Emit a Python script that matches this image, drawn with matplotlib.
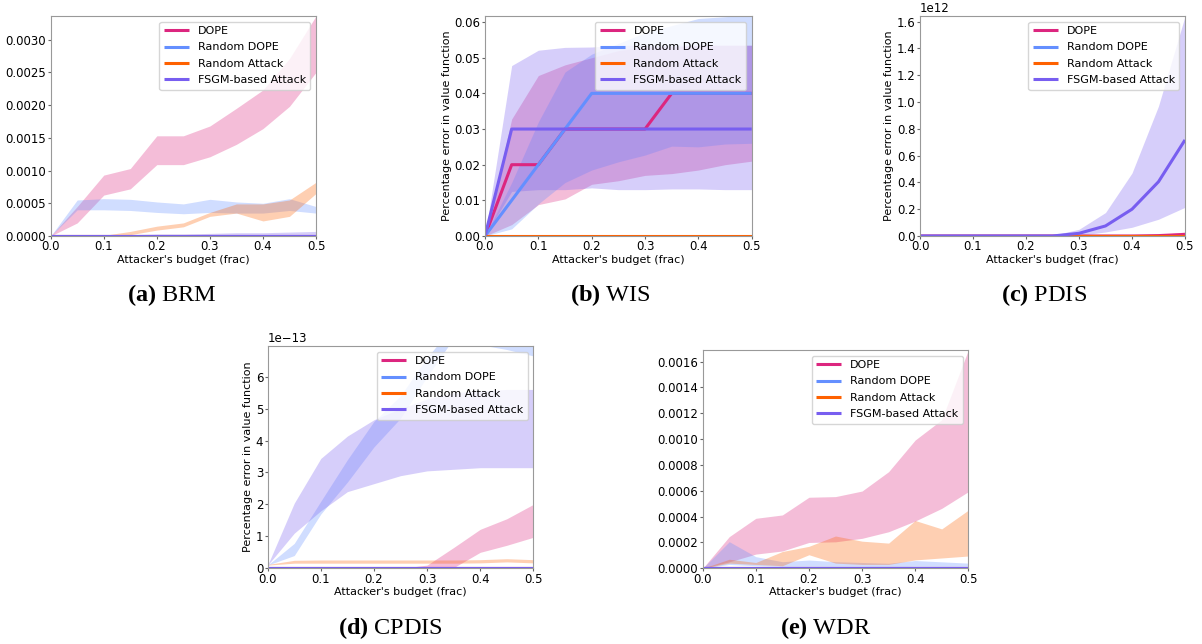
import matplotlib
matplotlib.use('Agg')
import matplotlib.pyplot as plt

plt.rcParams['mathtext.fontset'] = 'custom'
plt.rcParams['mathtext.rm'] = 'Liberation Serif'
plt.rcParams['mathtext.bf'] = 'Liberation Serif:bold'

# Attacker budget (fraction of corrupted data) on every x axis.
budget = [0.0, 0.05, 0.1, 0.15, 0.2, 0.25, 0.3, 0.35, 0.4, 0.45, 0.5]
methods = ['DOPE', 'Random DOPE', 'Random Attack', 'FSGM-based Attack']
colors = ['#DC267F', '#648FFF', '#FE6100', '#785EF0']
zeros = [0, 0, 0, 0, 0, 0, 0, 0, 0, 0, 0]

# BRM
brm_mean = [zeros, zeros, zeros, zeros]
brm_lo = [
    [0, 0.0002, 0.000625, 0.00072, 0.00109, 0.00109, 0.00121, 0.0014, 0.00164, 0.00198, 0.0025],
    [0, 0.0004, 0.0004, 0.00039, 0.00036, 0.00034, 0.00036, 0.00035, 0.00035, 0.00039, 0.00035],
    [0, 0, 0, 0.00002, 0.00009, 0.00014, 0.0003, 0.00035, 0.00023, 0.0003, 0.00065],
    zeros,
]
brm_hi = [
    [0, 0.00045, 0.00093, 0.00103, 0.00153, 0.00153, 0.00168, 0.00195, 0.00223, 0.00271, 0.00336],
    [0, 0.00055, 0.00057, 0.00056, 0.00052, 0.00049, 0.00056, 0.00052, 0.0005, 0.00057, 0.00045],
    [0, 0, 0.00001, 0.00007, 0.00015, 0.0002, 0.00036, 0.00049, 0.00049, 0.00055, 0.00082],
    [0, 0.00001, 0.00002, 0.00002, 0.00003, 0.00003, 0.00004, 0.00005, 0.00005, 0.00006, 0.00007],
]

# WIS
wis_mean = [
    [0, 0.02, 0.02, 0.03, 0.03, 0.03, 0.03, 0.04, 0.04, 0.04, 0.04],
    [0, 0.01, 0.02, 0.03, 0.04, 0.04, 0.04, 0.04, 0.04, 0.04, 0.04],
    zeros,
    [0, 0.03, 0.03, 0.03, 0.03, 0.03, 0.03, 0.03, 0.03, 0.03, 0.03],
]
wis_lo = [
    [0, 0.0032, 0.0088, 0.0104, 0.0145, 0.0155, 0.017, 0.0175, 0.0185, 0.02, 0.021],
    [0, 0.002, 0.009, 0.015, 0.0185, 0.0208, 0.0227, 0.0252, 0.025, 0.0258, 0.026],
    zeros,
    [0, 0.0125, 0.013, 0.013, 0.0135, 0.013, 0.013, 0.0132, 0.0132, 0.013, 0.013],
]
wis_hi = [
    [0, 0.0328, 0.045, 0.048, 0.05, 0.052, 0.053, 0.053, 0.0535, 0.0535, 0.0535],
    [0, 0.015, 0.032, 0.046, 0.051, 0.054, 0.057, 0.059, 0.061, 0.0615, 0.062],
    zeros,
    [0, 0.0478, 0.0521, 0.0529, 0.053, 0.0535, 0.0535, 0.0535, 0.0535, 0.0535, 0.0535],
]

# PDIS
pdis_mean = [
    [0, 0, 0, 0, 0, 0, 0, 0, 0, 0.003e12, 0.012e12],
    zeros,
    zeros,
    [0, 0, 0, 0, 0, 0, 0.02e12, 0.075e12, 0.2e12, 0.405e12, 0.717e12],
]
pdis_lo = [
    [0, 0, 0, 0, 0, 0, 0, 0, 0, 0, 0.004e12],
    zeros,
    zeros,
    [0, 0, 0, 0, 0, 0, 0.005e12, 0.03e12, 0.065e12, 0.125e12, 0.214e12],
]
pdis_hi = [
    [0, 0, 0, 0, 0, 0, 0, 0, 0, 0.008e12, 0.03e12],
    zeros,
    zeros,
    [0, 0, 0, 0, 0, 0.005e12, 0.05e12, 0.175e12, 0.47e12, 0.97e12, 1.64e12],
]

# CPDIS
cpdis_mean = [zeros, zeros, zeros, zeros]
cpdis_lo = [
    [0, 0, 0, 0, 0, 0, 0, 0.02e-13, 0.5e-13, 0.72e-13, 0.97e-13],
    [0.1e-13, 0.4e-13, 1.7e-13, 2.7e-13, 3.8e-13, 4.7e-13, 6.0e-13, 7.2e-13, 7.0e-13, 6.85e-13, 6.65e-13],
    [0.1e-13, 0.16e-13, 0.16e-13, 0.16e-13, 0.16e-13, 0.16e-13, 0.16e-13, 0.16e-13, 0.17e-13, 0.2e-13, 0.17e-13],
    [0.1e-13, 1.1e-13, 1.8e-13, 2.4e-13, 2.65e-13, 2.9e-13, 3.05e-13, 3.1e-13, 3.15e-13, 3.15e-13, 3.15e-13],
]
cpdis_hi = [
    [0, 0, 0, 0, 0, 0, 0.1e-13, 0.65e-13, 1.22e-13, 1.55e-13, 2.0e-13],
    [0.1e-13, 0.78e-13, 2.1e-13, 3.4e-13, 4.6e-13, 5.4e-13, 6.6e-13, 7.6e-13, 7.6e-13, 7.5e-13, 7.4e-13],
    [0.12e-13, 0.25e-13, 0.26e-13, 0.26e-13, 0.26e-13, 0.26e-13, 0.26e-13, 0.26e-13, 0.27e-13, 0.3e-13, 0.27e-13],
    [0.1e-13, 2.04e-13, 3.44e-13, 4.14e-13, 4.65e-13, 5.0e-13, 5.3e-13, 5.5e-13, 5.55e-13, 5.6e-13, 5.6e-13],
]

# WDR
wdr_mean = [zeros, zeros, zeros, zeros]
wdr_lo = [
    [0, 0.00005, 0.00011, 0.000134, 0.0002, 0.000205, 0.000232, 0.000283, 0.000366, 0.000464, 0.000593],
    [0, 0.00003, 0.00002, 0.000015, 0.000015, 0.000015, 0.000015, 0.000012, 0.000015, 0.000015, 0.000015],
    [0, 0.00004, 0.00003, 0.00002, 0.000105, 0.00004, 0.00003, 0.00003, 0.000065, 0.00008, 0.000095],
    zeros,
]
wdr_hi = [
    [0, 0.000245, 0.000387, 0.000413, 0.00055, 0.000555, 0.000598, 0.000748, 0.000993, 0.00115, 0.00169],
    [0, 0.000206, 0.00009, 0.000051, 0.000064, 0.000051, 0.000045, 0.000039, 0.00006, 0.00005, 0.00004],
    [0, 0.00007, 0.000045, 0.00013, 0.00017, 0.00025, 0.00021, 0.000195, 0.00037, 0.000305, 0.00045],
    [0, 0.000005, 0.000008, 0.000008, 0.00001, 0.00001, 0.00001, 0.00001, 0.00001, 0.00001, 0.00001],
]

W, H = 1202, 644
fig = plt.figure(figsize=(W / 100, H / 100), dpi=100)


def box(left, top, right, bottom):
    return [left / W, 1 - bottom / H, (right - left) / W, (bottom - top) / H]


panels = [
    # (mean, lo, hi, axes box, ylim top, yticks, ylabel shown)
    (brm_mean, brm_lo, brm_hi, box(50.7, 16, 316, 236), 0.00336,
     [0, 0.0005, 0.001, 0.0015, 0.002, 0.0025, 0.003], False),
    (wis_mean, wis_lo, wis_hi, box(485, 16, 751.7, 236), 0.0617,
     [0, 0.01, 0.02, 0.03, 0.04, 0.05, 0.06], True),
    (pdis_mean, pdis_lo, pdis_hi, box(920, 16, 1185, 236), 1.642e12,
     [0, 0.2e12, 0.4e12, 0.6e12, 0.8e12, 1.0e12, 1.2e12, 1.4e12, 1.6e12], True),
    (cpdis_mean, cpdis_lo, cpdis_hi, box(267.7, 346, 533.3, 568.3), 6.96e-13,
     [0, 1e-13, 2e-13, 3e-13, 4e-13, 5e-13, 6e-13], True),
    (wdr_mean, wdr_lo, wdr_hi, box(702.7, 350, 968.3, 568.3), 0.00169,
     [0, 0.0002, 0.0004, 0.0006, 0.0008, 0.001, 0.0012, 0.0014, 0.0016], False),
]

for mean, lo, hi, rect, ytop, yticks, show_ylabel in panels:
    ax = fig.add_axes(rect)
    for i in range(4):
        ax.fill_between(budget, lo[i], hi[i], color=colors[i], alpha=0.3,
                        linewidth=0, zorder=1)
    for i in range(4):
        ax.plot(budget, mean[i], color=colors[i], lw=2.2, label=methods[i],
                zorder=2, solid_capstyle='butt')
    ax.set_xlim(0, 0.5)
    ax.set_ylim(0, ytop)
    ax.set_xticks([0, 0.1, 0.2, 0.3, 0.4, 0.5])
    ax.set_yticks(yticks)
    ax.tick_params(labelsize=8.5, length=2, pad=1.2, color='#666666')
    ax.yaxis.get_offset_text().set_fontsize(8.5)
    for s in ax.spines.values():
        s.set_color('#999999')
        s.set_linewidth(0.8)
    ax.set_xlabel("Attacker's budget (frac)", fontsize=8, labelpad=1)
    if show_ylabel:
        ax.set_ylabel('Percentage error in value function', fontsize=8, labelpad=2)
    ax.legend(loc='upper right', fontsize=8, handlelength=2.25,
              labelspacing=0.58, borderaxespad=0.5)

captions = [
    ('a', 'BRM', 172, 295),
    ('b', 'WIS', 610, 295),
    ('c', 'PDIS', 1044, 295),
    ('d', 'CPDIS', 390, 628),
    ('e', 'WDR', 826, 628),
]
for tag, name, cx, cy in captions:
    fig.text(cx / W, 1 - cy / H, r'$\mathbf{(%s)}$ %s' % (tag, name),
             family='Liberation Serif', fontsize=17.5, ha='center', va='center')

fig.savefig('out.png', dpi=100)
